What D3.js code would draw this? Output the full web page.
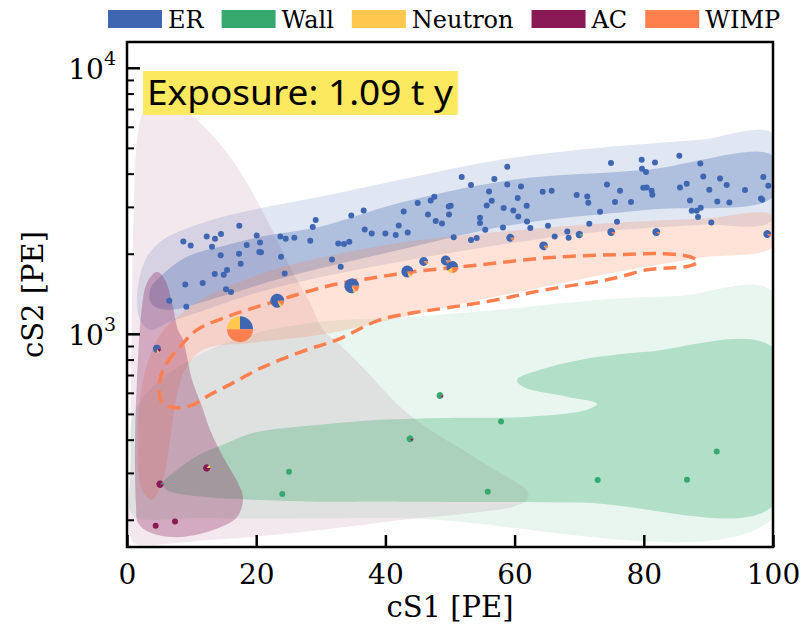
<!DOCTYPE html>
<html>
<head>
<meta charset="utf-8">
<script src="https://cdn.jsdelivr.net/npm/d3@7"></script>
<style>
  body { margin: 0; background: #fff; }
  svg text.serif { font-family: "DejaVu Serif", "DejaVuSerif", "Liberation Serif", "Noto Serif", "Times New Roman", "Nimbus Roman", "FreeSerif", Times, serif; }
</style>
</head>
<body>
<svg></svg>
<script>
const width = 806
const height = 627
const margin = { top: 42, right: 33, bottom: 80, left: 127 }

// categories and their colours
const categories = ['ER', 'Wall', 'Neutron', 'AC', 'WIMP']
const catColors = ['#3e66b1', '#35a96e', '#fdc84d', '#8a1a56', '#ff7f4f']

const xTicks = [0, 20, 40, 60, 80, 100]
const yMajor = [1000, 10000]
const yMinor = [200, 300, 400, 500, 600, 700, 800, 900, 2000, 3000, 4000, 5000, 6000, 7000, 8000, 9000]
const exposureText = 'Exposure: 1.09 t y'

// background model regions, [cS1, cS2]
const erOuter = [[100,5648],[88.7,5362],[73.22,5003],[57.74,4510],[42.26,3793],[29.88,3273],[19.5,2925],[11.76,2615],[5.57,2256],[3.1,1948],[1.86,1596],[1.55,1342],[2.01,1129],[3.56,1035],[6.66,1110],[11.3,1210],[19.04,1402],[26.78,1569],[42.26,1865],[57.74,2161],[73.22,2418],[88.7,2570],[100,2683]]
const erInner = [[100,4669],[80.5,4135],[59.75,3793],[42.26,3108],[29.88,2525],[20.59,2316],[14.4,2124],[9.29,1948],[5.11,1638],[3.56,1464],[3.87,1285],[6.66,1231],[14.4,1378],[24.77,1638],[42.26,2069],[59.75,2570],[80.5,2925],[100,3273]]
const wallOuter = [[100,1439],[85.6,1390],[73.22,1342],[57.74,1231],[42.26,1149],[29.88,1110],[19.04,991],[9.75,798],[3.56,616],[0.77,475],[0.46,283],[0.93,209],[11.3,203],[42.26,203],[100,203]]
const wallInner = [[100,886],[80.5,856],[70.12,798],[63.93,732],[60.37,672],[61.3,632],[68.11,580],[72.76,546],[71.21,518],[62.38,488],[49.54,483],[39.16,475],[29.88,455],[19.5,424],[14.86,383],[11.76,357],[7.74,308],[5.57,275],[6.19,259],[11.76,244],[19.5,238],[29.88,234],[42.26,234],[70.12,232],[100,226]]
const acOuter = [[0.93,165],[0.62,366],[0.77,1342],[1.08,3190],[1.55,5362],[2.79,6953],[5.88,7580],[9.29,6832],[12.85,5695],[15.94,4628],[18.58,3695],[20.59,3001],[23.22,2256],[25.7,1696],[28.33,1308],[30.34,1035],[32.97,909],[36.84,732],[42.26,532],[46.9,436],[52.01,366],[56.19,316],[60.06,278],[62.07,255],[61.92,238],[59.75,224],[54.64,214],[45.36,203],[39.16,195],[29.88,183],[19.04,172],[11.3,167],[3.56,161]]
const acInner = [[1.39,228],[1.24,376],[1.55,672],[2.32,1263],[3.1,1555],[4.64,1711],[5.88,1596],[6.97,1308],[7.89,1035],[8.67,949],[10.06,672],[11.61,532],[12.85,436],[14.86,345],[17.18,275],[17.96,242],[17.03,205],[13.31,183],[7.74,172],[3.56,179],[1.7,195]]
const wimpOuter = [[100,2777],[88.7,2705],[73.22,2592],[57.74,2418],[42.26,2198],[31.42,1965],[23.68,1771],[17.49,1569],[12.07,1365],[8.2,1179],[5.11,991],[3.1,765],[2.01,565],[1.7,366],[2.32,259],[3.87,238],[5.57,283],[6.66,400],[7.59,565],[8.98,732],[11.76,871],[19.5,925],[29.88,991],[42.26,1149],[54.64,1342],[62.38,1464],[75.23,1696],[88.7,1931],[100,2124]]
// WIMP contour (dashed)
const wimpContour = [[5.11,672],[6.19,778],[8.2,894],[10.84,1035],[15.48,1159],[20.12,1263],[25.23,1378],[31.89,1528],[39.16,1638],[44.27,1711],[54.64,1817],[65.02,1931],[75.23,1982],[82.97,2000],[87.15,1948],[88.39,1865],[87.15,1801],[84.52,1771],[80.5,1740],[76.32,1638],[72.76,1569],[67.49,1502],[62.38,1426],[57.28,1342],[49.54,1252],[44.27,1199],[39.16,1129],[32.51,949],[27.86,871],[23.68,798],[20.12,732],[16.41,654],[12.85,590],[10.22,541],[7.74,527],[5.42,550]]

// events
const erEvents = [[8.72,2223],[9.86,2148],[12.34,2322],[13.62,2276],[14.55,2371],[13.16,2124],[17.38,2547],[18.53,2156],[20.08,2342],[20.59,2204],[17.34,2000],[14.5,1976],[20.48,2028],[20.74,2025],[17.6,1833],[23.73,2322],[24.57,2276],[25.9,2296],[28.37,2237],[28.75,2518],[29.21,2676],[23.84,1948],[15.48,1736],[14.97,1667],[13.58,1677],[11.72,1551],[9.02,1532],[15.33,1472],[16.1,1435],[6.55,1331],[9.18,1263],[24.41,1686],[31.73,1902],[33.08,1786],[32.71,2185],[33.59,2174],[34.41,2218],[34.72,2785],[36.64,2908],[36.8,2466],[37.88,2383],[40.0,2383],[41.6,2350],[42.06,2554],
  [43.45,2403],[42.83,2883],[45.0,3100],[47.01,3170],[47.57,3273],[46.59,2809],[47.79,2653],[48.76,2599],[49.8,3010],[50.11,3028],[49.85,2809],[50.57,2309],[51.81,3882],[53.25,3624],[54.64,2731],[54.64,2608],[53.25,2251],[54.13,2290],[55.46,2460],[55.68,3035],[56.46,3162],[56.04,3427],[56.86,3815],[58.87,4245],[58.87,3642],[58.31,2969],[58.2,2510],[59.8,2908],[60.48,3237],[60.57,2761],[60.99,3579],[61.87,3028],[61.92,2644],[62.43,2497],[64.35,3418],[65.74,3448],[65.17,2547],[66.21,2322],[68.16,2424],[68.37,2296],[69.61,3322],[71.25,3282],[71.41,3108],[71.56,2592],[73.22,2875],[74.3,3642],[74.92,4383],[75.54,3127],[75.85,2637],[76.32,3448],[78.02,3127],[79.67,4510],[79.72,4172],[80.34,4055],[81.73,4406],[79.92,3539],[80.45,3548],[81.22,3448],[81.32,3331],[85.5,4669],[85.6,3548],[86.64,3664],[87.15,3170],[87.42,2900],[88.19,2900],[88.81,2976],[88.39,2747],[88.75,4368],[89.21,3903],[90.14,3478],[90.45,2621],[91.38,3144],[91.8,3835],[92.83,3624],[93.24,3115],[95.67,3469],[98.14,3226],[98.34,3190],[98.5,3882],[99.27,3601]]
const wallEvents = [[25.08,303],[24.04,250],[57.9,468],[55.84,255],[72.86,282],[86.69,283],[91.29,361]]
const acEvents = [[4.44,190],[7.43,197]]
// mixed events: cS1, cS2, weight, then fractions ER, Wall, Neutron, AC, WIMP
const mixedEvents = [
  [17.49,1041,1,    .25,0,.25,0,.5],
  [23.27,1331,.16,  .82,0,.06,0,.12],
  [34.78,1515,.2,   .8,0,.05,0,.15],
  [43.39,1715,.09,  .8,0,.07,0,.13],
  [45.93,1870,.0225,.88,0,0,0,.12],
  [49.34,1886,.04,  .85,0,0,0,.15],
  [50.36,1781,.09,  .6,0,.15,0,.25],
  [59.34,2296,.01,  .85,0,0,0,.15],
  [64.5,2142,.02,   .85,0,.03,0,.12],
  [70.02,2362,.005, .9,.1,0,0,0],
  [74.97,2412,.01,  .88,0,0,0,.12],
  [81.94,2412,.01,  .9,0,0,0,.1],
  [99.12,2371,.01,  .88,0,0,0,.12],
  [4.64,878,.01,    .75,0,.1,.15,0],
  [12.34,313,.004,  0,0,.15,.85,0],
  [5.11,272,.004,   0,.1,0,.9,0],
  [48.45,586,.002,  0,.85,0,.15,0],
  [43.81,403,.002,  0,.85,0,.15,0]
]

const x = d3.scaleLinear().domain([0, 100]).range([margin.left, width - margin.right])
const y = d3.scaleLog().domain([158, 12500]).range([height - margin.bottom, margin.top])
const r = d3.scaleSqrt().domain([0, 1]).range([3, 13])
const color = d3.scaleOrdinal().domain(categories).range(catColors)

const svg = d3.select('svg')
  .attr('width', width)
  .attr('height', height)

svg.append('clipPath').attr('id', 'plot')
  .append('rect')
  .attr('x', margin.left).attr('y', margin.top)
  .attr('width', width - margin.left - margin.right)
  .attr('height', height - margin.top - margin.bottom)

const area = d3.line()
  .x(d => x(d[0]))
  .y(d => y(d[1]))
  .curve(d3.curveCatmullRomClosed.alpha(0.5))

const g = svg.append('g').attr('clip-path', 'url(#plot)')

const regions = [
  [acOuter, 'AC', 0.1],
  [wallOuter, 'Wall', 0.11],
  [wallInner, 'Wall', 0.3],
  [erOuter, 'ER', 0.16],
  [erInner, 'ER', 0.3],
  [wimpOuter, 'WIMP', 0.22],
  [acInner, 'AC', 0.3]
]

g.selectAll('path.region')
  .data(regions)
  .join('path')
    .attr('class', 'region')
    .attr('d', d => area(d[0]))
    .attr('fill', d => color(d[1]))
    .attr('fill-opacity', d => d[2])

g.append('path')
  .attr('d', area(wimpContour))
  .attr('fill', 'none')
  .attr('stroke', color('WIMP'))
  .attr('stroke-width', 3.5)
  .attr('stroke-dasharray', '13,7')

const dots = [
  [erEvents, 'ER'],
  [wallEvents, 'Wall'],
  [acEvents, 'AC']
]
dots.forEach(([events, cat]) => {
  g.append('g').selectAll('circle')
    .data(events)
    .join('circle')
      .attr('cx', d => x(d[0]))
      .attr('cy', d => y(d[1]))
      .attr('r', r(0))
      .attr('fill', color(cat))
})

// pies start at 3 o'clock and run counter-clockwise
const pie = d3.pie().sort(null).value(d => d.v)
  .startAngle(Math.PI / 2).endAngle(Math.PI / 2 - 2 * Math.PI)

const pies = g.append('g').selectAll('g')
  .data(mixedEvents.slice().sort((a, b) => a[2] - b[2]))
  .join('g')
    .attr('transform', d => `translate(${x(d[0])},${y(d[1])})`)

pies.selectAll('path')
  .data(d => pie(categories.map((c, i) => ({ c, v: d[3 + i], w: d[2] }))))
  .join('path')
    .attr('d', d => d3.arc().innerRadius(0).outerRadius(r(d.data.w))(d))
    .attr('fill', d => color(d.data.c))

// exposure label
const label = svg.append('g')
const labelText = label.append('text')
  .attr('x', 147)
  .attr('y', 105)
  .attr('font-family', 'Noto Sans, sans-serif')
  .attr('font-size', 34)
  .attr('textLength', 306)
  .attr('lengthAdjust', 'spacingAndGlyphs')
  .text(exposureText)
const bb = labelText.node().getBBox()
label.insert('rect', 'text')
  .attr('x', 143)
  .attr('y', 71)
  .attr('width', bb.width + 8)
  .attr('height', 44)
  .attr('fill', '#fde960')

// axes
const xAxis = svg.append('g')
  .attr('transform', `translate(0,${height - margin.bottom})`)
  .call(d3.axisBottom(x).tickValues(xTicks).tickSize(-12).tickPadding(17))
xAxis.select('.domain').remove()
xAxis.selectAll('line').attr('stroke-width', 2.5)
xAxis.attr('font-family', null).attr('font-size', null)
xAxis.selectAll('text')
  .attr('class', 'serif')
  .attr('font-size', 28)
  .attr('fill', '#000')

const yAxis = svg.append('g')
  .attr('transform', `translate(${margin.left},0)`)
  .call(d3.axisLeft(y).tickValues(yMajor).tickSize(-13).tickFormat(''))
yAxis.select('.domain').remove()
yAxis.selectAll('line').attr('stroke-width', 2.5)

const yMinorAxis = svg.append('g')
  .attr('transform', `translate(${margin.left},0)`)
  .call(d3.axisLeft(y).tickValues(yMinor).tickSize(-7).tickFormat(''))
yMinorAxis.select('.domain').remove()
yMinorAxis.selectAll('line').attr('stroke-width', 2)

const yLabels = svg.append('g')
  .selectAll('text')
  .data(yMajor)
  .join('text')
    .attr('class', 'serif')
    .attr('x', margin.left - 11)
    .attr('y', d => y(d) + 11)
    .attr('text-anchor', 'end')
    .attr('font-size', 28)
yLabels.append('tspan').text('10')
yLabels.append('tspan')
  .attr('font-size', 19)
  .attr('dy', -14)
  .text(d => Math.round(Math.log10(d)))

svg.append('rect')
  .attr('x', margin.left).attr('y', margin.top)
  .attr('width', width - margin.left - margin.right)
  .attr('height', height - margin.top - margin.bottom)
  .attr('fill', 'none')
  .attr('stroke', '#000')
  .attr('stroke-width', 2.5)

svg.append('text')
  .attr('class', 'serif')
  .attr('x', (margin.left + width - margin.right) / 2)
  .attr('y', 617)
  .attr('text-anchor', 'middle')
  .attr('font-size', 29)
  .text('cS1 [PE]')

svg.append('text')
  .attr('class', 'serif')
  .attr('transform', `translate(43,${(margin.top + height - margin.bottom) / 2}) rotate(-90)`)
  .attr('text-anchor', 'middle')
  .attr('font-size', 29)
  .text('cS2 [PE]')

// legend
const legend = svg.append('g')
let lx = 108
categories.forEach(c => {
  legend.append('rect')
    .attr('x', lx).attr('y', 10)
    .attr('width', 54).attr('height', 18)
    .attr('fill', color(c))
  const t = legend.append('text')
    .attr('class', 'serif')
    .attr('x', lx + 60).attr('y', 28)
    .attr('font-size', 24)
    .text(c)
  lx += 60 + t.node().getComputedTextLength() + 18
})
</script>
</body>
</html>
